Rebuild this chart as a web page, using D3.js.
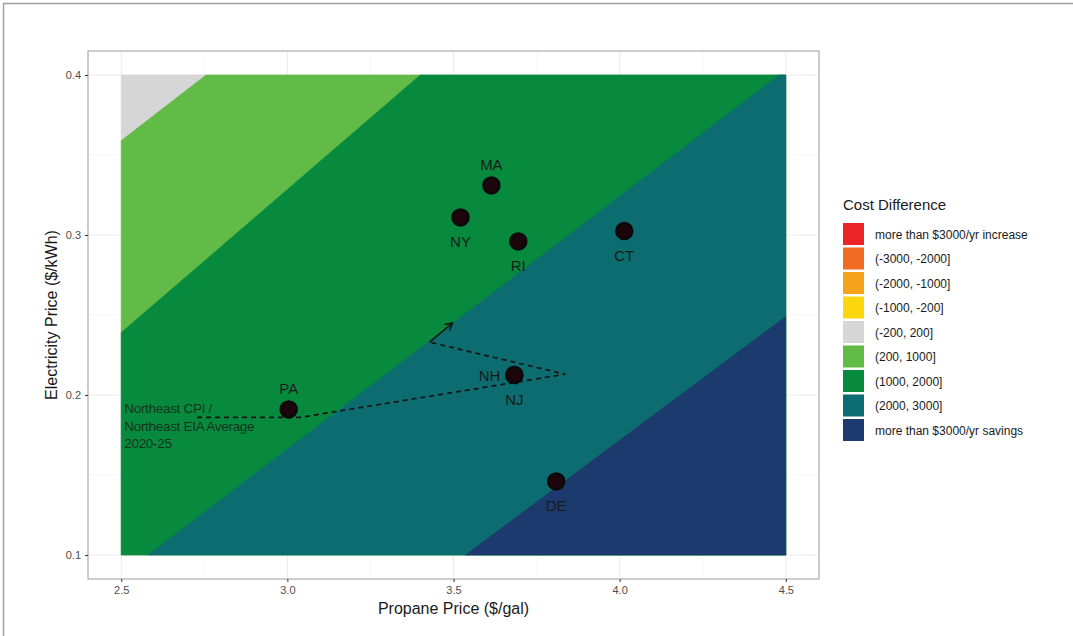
<!DOCTYPE html>
<html>
<head>
<meta charset="utf-8">
<script src="https://cdn.jsdelivr.net/npm/d3@7"></script>
<style>
  body { margin: 0; background: #fff; }
  text { font-family: "Liberation Sans", Arial, sans-serif; }
</style>
</head>
<body>
<svg id="chart" width="1073" height="636"></svg>
<script>
// states (points)
var states = ["PA", "NY", "MA", "RI", "CT", "NH", "NJ", "DE"];
var propane = [3.004, 3.521, 3.614, 3.695, 4.014, 3.683, 3.683, 3.809];
var electricity = [0.191, 0.311, 0.331, 0.296, 0.3025, 0.2125, 0.2125, 0.146];
var labelSide = ["above", "below", "above", "below", "below", "left", "below", "below"];

// cost difference bands (legend order)
var bandLabels = ["more than $3000/yr increase", "(-3000, -2000]", "(-2000, -1000]", "(-1000, -200]",
  "(-200, 200]", "(200, 1000]", "(1000, 2000]", "(2000, 3000]", "more than $3000/yr savings"];
var bandColors = ["#ec2327", "#f26b22", "#f7a21d", "#fcd60f", "#d6d6d6", "#62ba47", "#078a3e", "#0c6c6f", "#1c3a6d"];

// boundary lines between visible bands (propane, electricity)
var boundaryBreaks = [200, 1000, 2000, 3000];
var boundaryStart = [[2.5, 0.359], [2.5, 0.239], [2.581, 0.1], [3.536, 0.1]];
var boundaryEnd = [[2.755, 0.4], [3.40, 0.4], [4.48, 0.4], [4.5, 0.249]];

// Northeast average path
var pathPropane = [2.728, 3.038, 3.836, 3.428];
var pathElec = [0.186, 0.186, 0.213, 0.233];
var arrowEnd = [3.497, 0.245];

var xTicks = [2.5, 3.0, 3.5, 4.0, 4.5];
var yTicks = [0.1, 0.2, 0.3, 0.4];
var xMinor = [2.75, 3.25, 3.75, 4.25];
var yMinor = [0.15, 0.25, 0.35];

var svg = d3.select("#chart");
var panel = {left: 88, right: 819, top: 51, bottom: 579};

// outer frame
svg.append("line").attr("x1", 3).attr("x2", 1073).attr("y1", 3.5).attr("y2", 3.5).attr("stroke", "#a0a0a0").attr("stroke-width", 1.5);
svg.append("line").attr("x1", 3.5).attr("x2", 3.5).attr("y1", 3).attr("y2", 636).attr("stroke", "#a0a0a0").attr("stroke-width", 1.5);

var x = d3.scaleLinear().domain([2.4, 4.6]).range([panel.left, panel.right]);
var y = d3.scaleLinear().domain([0.085, 0.415]).range([panel.bottom, panel.top]);

// grid
var grid = svg.append("g");
grid.selectAll(".xminor").data(xMinor).enter().append("line")
  .attr("x1", d => x(d)).attr("x2", d => x(d)).attr("y1", panel.top).attr("y2", panel.bottom)
  .attr("stroke", "#f2f2f2").attr("stroke-width", 0.6);
grid.selectAll(".yminor").data(yMinor).enter().append("line")
  .attr("y1", d => y(d)).attr("y2", d => y(d)).attr("x1", panel.left).attr("x2", panel.right)
  .attr("stroke", "#f2f2f2").attr("stroke-width", 0.6);
grid.selectAll(".xmajor").data(xTicks).enter().append("line")
  .attr("x1", d => x(d)).attr("x2", d => x(d)).attr("y1", panel.top).attr("y2", panel.bottom)
  .attr("stroke", "#ebebeb").attr("stroke-width", 1);
grid.selectAll(".ymajor").data(yTicks).enter().append("line")
  .attr("y1", d => y(d)).attr("y2", d => y(d)).attr("x1", panel.left).attr("x2", panel.right)
  .attr("stroke", "#ebebeb").attr("stroke-width", 1);

// clip a polygon to the half plane below/right of a line (data coords)
function clipBelow(poly, s, e) {
  function side(p) { return (e[0] - s[0]) * (p[1] - s[1]) - (e[1] - s[1]) * (p[0] - s[0]); }
  function cross(a, b) {
    var t = side(a) / (side(a) - side(b));
    return [a[0] + t * (b[0] - a[0]), a[1] + t * (b[1] - a[1])];
  }
  var out = [];
  for (var i = 0; i < poly.length; i++) {
    var a = poly[i], b = poly[(i + 1) % poly.length];
    var ina = side(a) <= 0, inb = side(b) <= 0;
    if (ina) out.push(a);
    if (ina !== inb) out.push(cross(a, b));
  }
  return out;
}

var rect = [[xTicks[0], yTicks[0]], [xTicks[4], yTicks[0]], [xTicks[4], yTicks[3]], [xTicks[0], yTicks[3]]];
var bands = [{poly: rect, color: bandColors[4]}];
boundaryBreaks.forEach(function(b, i) {
  bands.push({poly: clipBelow(rect, boundaryStart[i], boundaryEnd[i]), color: bandColors[5 + i]});
});
var line = d3.line().x(d => x(d[0])).y(d => y(d[1]));
svg.append("g").selectAll("path").data(bands).enter().append("path")
  .attr("d", d => line(d.poly) + "Z")
  .attr("fill", d => d.color)
  .attr("stroke", d => d.color).attr("stroke-width", 0.5);

// panel border
svg.append("rect").attr("x", panel.left).attr("y", panel.top)
  .attr("width", panel.right - panel.left).attr("height", panel.bottom - panel.top)
  .attr("fill", "none").attr("stroke", "#999").attr("stroke-width", 1);

// axes
var xAxis = svg.append("g").attr("transform", "translate(0," + panel.bottom + ")")
  .call(d3.axisBottom(x).tickValues(xTicks).tickFormat(d3.format(".1f")).tickSize(3).tickPadding(4));
var yAxis = svg.append("g").attr("transform", "translate(" + panel.left + ",0)")
  .call(d3.axisLeft(y).tickValues(yTicks).tickFormat(d3.format(".1f")).tickSize(3).tickPadding(4));
[xAxis, yAxis].forEach(function(a) {
  a.select(".domain").remove();
  a.selectAll(".tick line").attr("stroke", "#333");
  a.selectAll(".tick text").attr("fill", "#4d4d4d").style("font-size", "11px");
});

svg.append("text").attr("x", (panel.left + panel.right) / 2).attr("y", 614)
  .attr("text-anchor", "middle").attr("fill", "#1a1a1a").style("font-size", "16px")
  .text("Propane Price ($/gal)");
svg.append("text").attr("transform", "translate(57," + ((panel.top + panel.bottom) / 2) + ") rotate(-90)")
  .attr("text-anchor", "middle").attr("fill", "#1a1a1a").style("font-size", "16px")
  .text("Electricity Price ($/kWh)");

// Northeast average path
var pts = pathPropane.map((p, i) => [p, pathElec[i]]);
svg.append("path").attr("d", line(pts)).attr("fill", "none")
  .attr("stroke", "#141414").attr("stroke-width", 1.7).attr("stroke-dasharray", "5,4");
var last = pts[pts.length - 1];
var ax1 = x(last[0]), ay1 = y(last[1]), ax2 = x(arrowEnd[0]), ay2 = y(arrowEnd[1]);
svg.append("line").attr("x1", ax1).attr("y1", ay1).attr("x2", ax2).attr("y2", ay2)
  .attr("stroke", "#141414").attr("stroke-width", 1.6);
var ang = Math.atan2(ay2 - ay1, ax2 - ax1), hl = 8;
svg.append("path")
  .attr("d", "M" + (ax2 - hl * Math.cos(ang - 0.5)) + "," + (ay2 - hl * Math.sin(ang - 0.5)) +
    "L" + ax2 + "," + ay2 +
    "L" + (ax2 - hl * Math.cos(ang + 0.5)) + "," + (ay2 - hl * Math.sin(ang + 0.5)))
  .attr("fill", "none").attr("stroke", "#141414").attr("stroke-width", 1.6);

var note = svg.append("text").attr("x", x(2.5) + 3).attr("y", 413)
  .attr("fill", "#142414").attr("fill-opacity", 0.85).style("font-size", "13.5px")
  .style("letter-spacing", "-0.3px");
["Northeast CPI /", "Northeast EIA Average", "2020-25"].forEach(function(t, i) {
  note.append("tspan").attr("x", x(2.5) + 3).attr("dy", i === 0 ? 0 : 17.5).text(t);
});

// state points
var pg = svg.append("g");
pg.selectAll("circle").data(states).enter().append("circle")
  .attr("cx", (d, i) => x(propane[i])).attr("cy", (d, i) => y(electricity[i]))
  .attr("r", 8).attr("fill", "#1c050b").attr("stroke", "#0a0a0a").attr("stroke-width", 2.5);
pg.selectAll("text").data(states).enter().append("text")
  .attr("x", (d, i) => x(propane[i]) + (labelSide[i] === "left" ? -14 : 0))
  .attr("y", function(d, i) {
    var cy = y(electricity[i]);
    if (labelSide[i] === "above") return cy - 15;
    if (labelSide[i] === "below") return cy + 30;
    return cy + 6;
  })
  .attr("text-anchor", (d, i) => labelSide[i] === "left" ? "end" : "middle")
  .attr("fill", "#1a1a1a").style("font-size", "15px")
  .text(d => d);

// legend
var lg = svg.append("g").attr("transform", "translate(843,0)");
lg.append("text").attr("x", 0).attr("y", 210).attr("fill", "#1a1a1a").style("font-size", "15px").text("Cost Difference");
var item = lg.selectAll(".item").data(bandLabels).enter().append("g")
  .attr("transform", (d, i) => "translate(0," + (223 + i * 24.5) + ")");
item.append("rect").attr("width", 21).attr("height", 22).attr("fill", (d, i) => bandColors[i]);
item.append("text").attr("x", 32).attr("y", 15.5).attr("fill", "#1a1a1a").style("font-size", "12px").text(d => d);
</script>
</body>
</html>
